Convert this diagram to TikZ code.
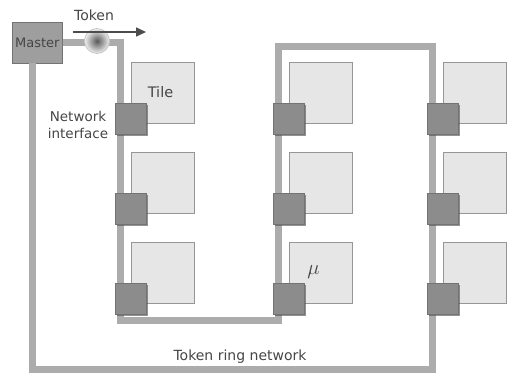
\documentclass[tikz,border=0pt]{standalone}
\usepackage{fontspec}
\setmainfont{DejaVu Sans}
\usetikzlibrary{arrows.meta,shadows}
\definecolor{pipecol}{RGB}{172,172,172}
\definecolor{nifill}{RGB}{140,140,140}
\definecolor{niedge}{RGB}{115,115,115}
\definecolor{tilefill}{RGB}{230,230,230}
\definecolor{tileedge}{RGB}{150,150,150}
\definecolor{mastfill}{RGB}{158,158,158}
\definecolor{txt}{RGB}{70,70,70}
\tikzset{
  pipe/.style={draw=pipecol, line width=7pt, line join=miter},
  tilebox/.style={draw=tileedge, fill=tilefill, line width=0.7pt, minimum width=63pt, minimum height=61pt, inner sep=0pt, outer sep=0pt, anchor=north west, text=txt},
  nibox/.style={draw=niedge, fill=nifill, line width=0.6pt, minimum width=31pt, minimum height=31pt, inner sep=0pt, anchor=north west, drop shadow={shadow xshift=1.5pt, shadow yshift=-1.5pt, opacity=0.6, fill=black!70}},
  masterbox/.style={draw=niedge, fill=mastfill, line width=0.6pt, minimum width=50pt, minimum height=41pt, inner sep=0pt, anchor=north west, text=txt, font=\fontsize{13}{14}\selectfont},
  lbl/.style={text=txt, font=\fontsize{14}{16}\selectfont, inner sep=0pt},
}
\begin{document}
\begin{tikzpicture}[x=1pt,y=-1pt]
\useasboundingbox (0,0) rectangle (507,375);
\fill[white] (0,0) rectangle (507,375);
% master
\node[masterbox] (master) at (12,22) {Master};
% ring corners
\coordinate (c1) at (120,42);
\coordinate (c2) at (120,320);
\coordinate (c3) at (278,320);
\coordinate (c4) at (278,46);
\coordinate (c5) at (432,46);
\coordinate (c6) at (432,369);
\coordinate (c7) at (32,369);
\coordinate (c8) at (32,63);
\draw[pipe] (master.east |- c1) -- (c1) -- (c2) -- (c3) -- (c4) -- (c5) -- (c6) -- (c7) -- (c8);
% tiles and network interfaces
\foreach \c/\pc in {a/120,b/278,c/432}{
  \foreach \r/\t in {1/62,2/152,3/242}{
    \node[tilebox] (tile\c\r) at (\pc+11,\t) {};
  }
}
\foreach \c/\pc in {a/120,b/278,c/432}{
  \foreach \r/\t in {1/62,2/152,3/242}{
    \node[nibox] (ni\c\r) at (\pc-5,\t+41) {};
  }
}
\node[lbl, font=\fontsize{14.5}{16}\selectfont] at ([xshift=-2pt]tilea1.center) {Tile};
\node[lbl] at ([xshift=-7pt]tileb3.center) {\fontsize{20}{22}\selectfont$\mu$};
% token
\node[circle, minimum size=25pt, inner sep=0pt, draw=black!22, line width=0.8pt, inner color=black!65, outer color=black!6] (token) at (97,41) {};
\node[lbl] (toklbl) at (94,15) {Token};
\coordinate (arrs) at (73,32);
\coordinate (arre) at (146,32);
\draw[black!70, line width=1.6pt, -{Triangle[length=10pt,width=9pt]}] (arrs) -- (arre);
% labels
\node[lbl, align=center, font=\fontsize{13.5}{17}\selectfont] (nilbl) at (78,125) {Network\\interface};
\node[lbl] (ringlbl) at (240,357) {Token ring network};
\end{tikzpicture}
\end{document}
